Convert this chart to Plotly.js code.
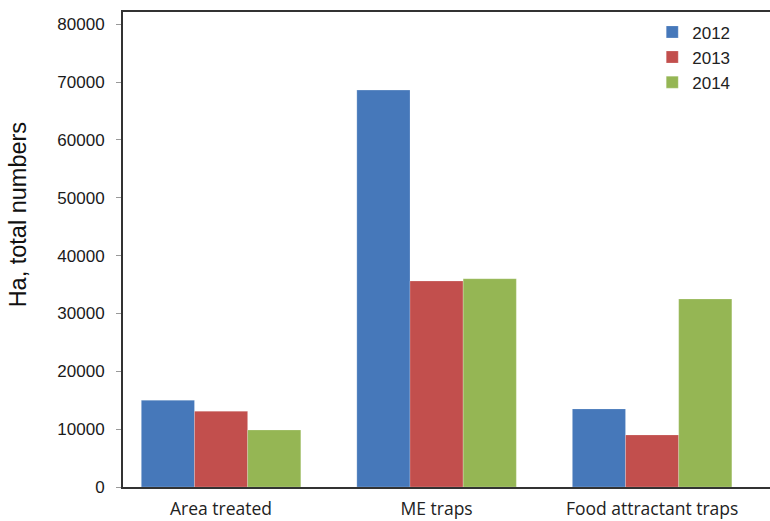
<!DOCTYPE html>
<html>
<head>
<meta charset="utf-8">
<script src="https://cdn.plot.ly/plotly-3.0.1.min.js"></script>
<style>html,body{margin:0;padding:0;background:#fff;}#chart{width:770px;height:521px;}</style>
</head>
<body>
<div id="chart"></div>
<script>
const categories = ["Area treated", "ME traps", "Food attractant traps"];
const years = ["2012", "2013", "2014"];
const values2012 = [15000, 68600, 13500];
const values2013 = [13100, 35600, 9000];
const values2014 = [9850, 36000, 32500];
const yTicks = [0, 10000, 20000, 30000, 40000, 50000, 60000, 70000, 80000];
const colors = ["#4678BA", "#C24F4D", "#95B654"];

const series = [values2012, values2013, values2014];
const traces = series.map((vals, i) => ({
  type: "bar",
  name: years[i],
  x: categories,
  y: vals,
  marker: {color: colors[i], line: {color: "rgba(255,255,255,0.35)", width: 0.6}},
  hoverinfo: "none"
}));

const layout = {
  width: 770,
  height: 521,
  margin: {l: 123, r: 0, t: 12, b: 34},
  paper_bgcolor: "#fff",
  plot_bgcolor: "#fff",
  barmode: "group",
  bargap: 0.26,
  bargroupgap: 0,
  showlegend: true,
  legend: {
    x: 0.818, y: 0.995, xanchor: "left", yanchor: "top",
    font: {family: "Liberation Sans, Arial, sans-serif", size: 17, color: "#222"},
    tracegroupgap: 0, itemwidth: 30,
    bgcolor: "rgba(0,0,0,0)"
  },
  xaxis: {
    type: "category",
    range: [-0.455, 2.547],
    showline: true, linecolor: "#333", linewidth: 2,
    mirror: true,
    ticks: "", showgrid: false, zeroline: false,
    tickfont: {family: "Open Sans, sans-serif", size: 17.5, color: "#222"},
    ticklabelstandoff: 5
  },
  yaxis: {
    range: [0, 82100],
    tickvals: yTicks,
    ticktext: yTicks.map(String),
    showline: true, linecolor: "#333", linewidth: 2,
    ticks: "outside", ticklen: 5, tickcolor: "#999", tickwidth: 1,
    showgrid: false, zeroline: false,
    tickfont: {family: "Liberation Sans, Arial, sans-serif", size: 17, color: "#1a1a1a"},
    ticklabelstandoff: 8
  },
  annotations: [{
    text: "Ha, total numbers",
    xref: "paper", yref: "paper",
    x: -0.163, y: 0.573,
    xanchor: "center", yanchor: "middle",
    textangle: -90, showarrow: false,
    font: {family: "Liberation Sans, Arial, sans-serif", size: 23.5, color: "#111"}
  }]
};

Plotly.newPlot("chart", traces, layout, {staticPlot: true, displayModeBar: false});
</script>
</body>
</html>
